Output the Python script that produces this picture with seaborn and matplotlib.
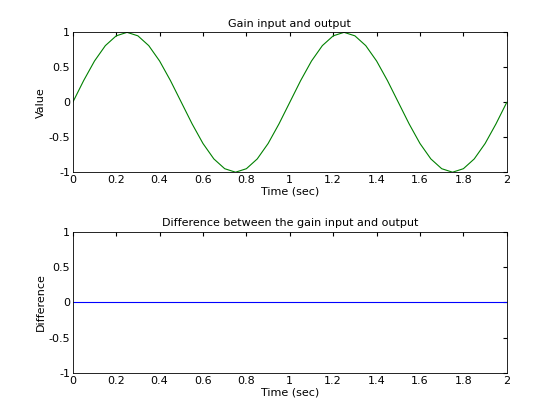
import numpy as np
import pandas as pd
import matplotlib
matplotlib.use("Agg")
import matplotlib.pyplot as plt
import seaborn as sns

time_sec = [round(0.05 * i, 2) for i in range(41)]
gain_output = [0, 0.31, 0.59, 0.81, 0.95, 1.0, 0.95, 0.81, 0.59, 0.31,
               0, -0.31, -0.59, -0.81, -0.95, -1.0, -0.95, -0.81, -0.59, -0.31,
               0, 0.31, 0.59, 0.81, 0.95, 1.0, 0.95, 0.81, 0.59, 0.31,
               0, -0.31, -0.59, -0.81, -0.95, -1.0, -0.95, -0.81, -0.59, -0.31, 0]
difference = [0.0] * 41

df = pd.DataFrame({'t': time_sec, 'out': gain_output, 'diff': difference})

sns.set_style("white")
plt.rcParams['font.family'] = ['DejaVu Sans']
plt.rcParams['xtick.direction'] = 'in'
plt.rcParams['ytick.direction'] = 'in'
for k in ['text.color', 'axes.labelcolor', 'xtick.color', 'ytick.color']:
    plt.rcParams[k] = 'black'

fig = plt.figure(figsize=(5.6, 4.2), dpi=100)
ax1 = fig.add_axes([0.130, 0.590, 0.775, 0.333])
ax2 = fig.add_axes([0.130, 0.112, 0.775, 0.336])

sns.lineplot(data=df, x='t', y='out', ax=ax1, color='#008000', linewidth=0.8)
sns.lineplot(data=df, x='t', y='diff', ax=ax2, color='#0000ff', linewidth=0.8)

titles = ['Gain input and output', 'Difference between the gain input and output']
ylabels = ['Value', 'Difference']
for ax, title, yl in zip([ax1, ax2], titles, ylabels):
    ax.set_xlim(0, 2)
    ax.set_ylim(-1, 1)
    ax.set_xticks(np.arange(0, 2.01, 0.2))
    ax.set_xticklabels(['0', '0.2', '0.4', '0.6', '0.8', '1', '1.2', '1.4', '1.6', '1.8', '2'])
    ax.set_yticks([-1, -0.5, 0, 0.5, 1])
    ax.set_yticklabels(['-1', '-0.5', '0', '0.5', '1'])
    ax.tick_params(labelsize=8, length=3, top=True, right=True, pad=2, colors='black')
    ax.set_title(title, fontsize=8, pad=4, color='black')
    ax.set_xlabel('Time (sec)', fontsize=8, labelpad=1, color='black')
    ax.set_ylabel(yl, fontsize=8, labelpad=2, color='black')
    for s in ax.spines.values():
        s.set_color('black')
        s.set_linewidth(0.6)

fig.savefig('out.png', dpi=100)
